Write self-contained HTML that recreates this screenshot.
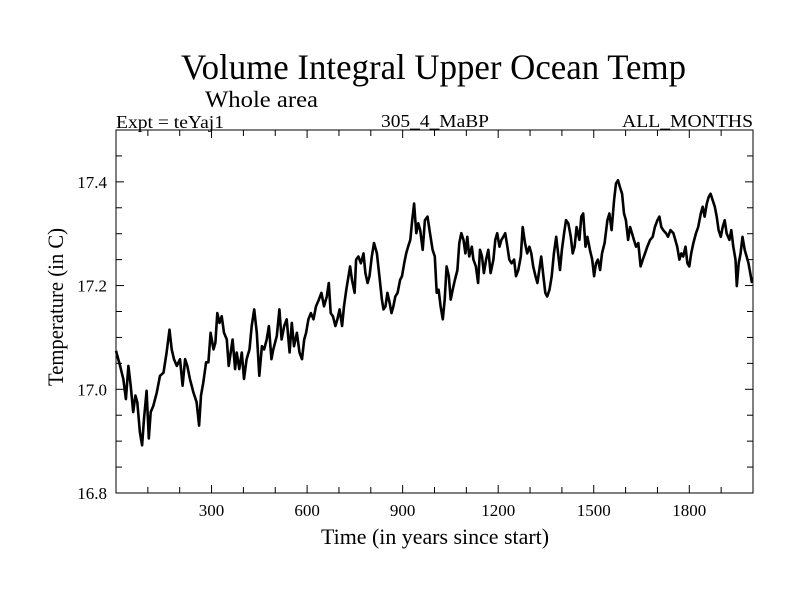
<!DOCTYPE html>
<html><head><meta charset="utf-8"><style>html,body{margin:0;padding:0;background:#fff}svg{display:block}text{font-family:"Liberation Serif",serif;fill:#000}</style></head>
<body>
<svg id="chart" width="800" height="600" viewBox="0 0 800 600" xmlns="http://www.w3.org/2000/svg">
<text x="181" y="79" font-size="36" textLength="505" lengthAdjust="spacingAndGlyphs">Volume Integral Upper Ocean Temp</text>
<text x="205" y="107" font-size="23" textLength="113" lengthAdjust="spacingAndGlyphs">Whole area</text>
<text x="116" y="128" font-size="18" textLength="108" lengthAdjust="spacingAndGlyphs">Expt = teYaj1</text>
<text x="381" y="127" font-size="18" textLength="108" lengthAdjust="spacingAndGlyphs">305_4_MaBP</text>
<text x="622" y="127" font-size="18" textLength="131" lengthAdjust="spacingAndGlyphs">ALL_MONTHS</text>
<text transform="translate(63,307) rotate(-90)" text-anchor="middle" font-size="22" textLength="158" lengthAdjust="spacingAndGlyphs">Temperature (in C)</text>
<text x="435" y="544" text-anchor="middle" font-size="22" textLength="228" lengthAdjust="spacingAndGlyphs">Time (in years since start)</text>
<g id="axes"></g>
<path id="series" fill="none" stroke="#000" stroke-width="2.6" stroke-linejoin="round"/>
<rect x="116" y="130" width="637" height="363" fill="none" stroke="#000" stroke-width="1"/>
</svg>
<script>
const years=[0,13,23,31,39,46,54,61,67,75,82,88,96,103,109,117,128,138,149,159,168,175,182,191,201,209,217,224,232,243,253,261,267,274,283,290,297,306,312,318,325,332,339,348,354,360,366,374,379,387,395,402,410,419,426,434,442,450,458,465,473,480,488,494,505,513,520,528,536,545,552,559,568,576,584,591,597,604,612,620,628,637,645,653,662,668,674,681,689,695,702,710,716,723,730,735,741,749,754,761,769,777,783,790,796,803,810,819,827,835,840,846,852,859,865,871,877,884,892,898,905,911,917,924,930,936,943,949,955,963,970,978,986,994,1001,1007,1013,1019,1026,1032,1038,1045,1051,1057,1064,1072,1078,1084,1091,1097,1103,1109,1117,1122,1130,1137,1143,1149,1155,1162,1169,1176,1185,1191,1197,1204,1210,1216,1222,1229,1235,1242,1250,1256,1263,1271,1277,1284,1291,1298,1304,1310,1317,1323,1329,1335,1342,1348,1354,1361,1368,1375,1382,1388,1394,1400,1407,1413,1420,1428,1434,1440,1446,1455,1461,1467,1474,1480,1488,1495,1501,1507,1513,1520,1526,1534,1543,1549,1556,1564,1570,1576,1582,1589,1595,1601,1608,1614,1620,1626,1633,1640,1647,1654,1661,1668,1677,1685,1692,1700,1706,1712,1718,1727,1733,1741,1750,1756,1762,1769,1775,1781,1788,1794,1800,1806,1813,1821,1828,1836,1842,1848,1855,1861,1867,1873,1880,1886,1892,1899,1905,1911,1917,1926,1932,1938,1945,1949,1955,1961,1967,1974,1980,1986,1993,1997];
const temps=[17.074,17.045,17.020,16.981,17.045,17.007,16.956,16.988,16.975,16.917,16.892,16.943,16.997,16.905,16.956,16.968,16.994,17.026,17.032,17.071,17.115,17.077,17.058,17.045,17.058,17.007,17.058,17.045,17.020,16.994,16.975,16.930,16.988,17.013,17.052,17.052,17.109,17.077,17.090,17.147,17.128,17.141,17.109,17.096,17.045,17.071,17.096,17.039,17.071,17.039,17.071,17.020,17.058,17.077,17.122,17.154,17.109,17.026,17.083,17.077,17.096,17.122,17.058,17.077,17.103,17.154,17.096,17.122,17.135,17.071,17.128,17.083,17.109,17.071,17.058,17.096,17.109,17.135,17.147,17.135,17.160,17.173,17.186,17.160,17.179,17.205,17.147,17.141,17.122,17.135,17.154,17.122,17.160,17.192,17.218,17.237,17.211,17.186,17.250,17.256,17.243,17.262,17.224,17.205,17.218,17.256,17.282,17.262,17.218,17.173,17.154,17.160,17.186,17.167,17.147,17.160,17.179,17.186,17.211,17.218,17.243,17.262,17.275,17.288,17.326,17.358,17.301,17.320,17.307,17.269,17.326,17.333,17.301,17.269,17.256,17.186,17.192,17.160,17.135,17.173,17.237,17.218,17.173,17.192,17.211,17.230,17.282,17.301,17.288,17.262,17.294,17.256,17.275,17.250,17.237,17.205,17.269,17.256,17.224,17.250,17.269,17.224,17.250,17.288,17.301,17.275,17.288,17.294,17.301,17.275,17.250,17.243,17.250,17.218,17.230,17.256,17.313,17.282,17.262,17.275,17.262,17.237,17.218,17.205,17.230,17.256,17.218,17.186,17.179,17.192,17.218,17.262,17.294,17.262,17.230,17.269,17.301,17.326,17.320,17.294,17.262,17.275,17.313,17.288,17.333,17.339,17.275,17.294,17.269,17.250,17.218,17.243,17.250,17.230,17.262,17.282,17.326,17.339,17.307,17.365,17.397,17.403,17.390,17.377,17.339,17.326,17.288,17.313,17.301,17.288,17.275,17.282,17.237,17.250,17.262,17.275,17.288,17.294,17.313,17.326,17.333,17.313,17.307,17.301,17.294,17.307,17.301,17.288,17.275,17.250,17.262,17.256,17.275,17.243,17.237,17.262,17.282,17.301,17.313,17.339,17.352,17.333,17.358,17.371,17.377,17.365,17.352,17.333,17.307,17.294,17.313,17.326,17.301,17.288,17.307,17.275,17.250,17.199,17.243,17.262,17.294,17.269,17.256,17.243,17.218,17.205];
const xTickLabels=[300,600,900,1200,1500,1800];
const yTickLabels=["16.8","17.0","17.2","17.4"];
const X0=116,X1=753,Y0=493,Y1=130,XMIN=0,XMAX=2000,YMIN=16.8,YMAX=17.5;
function xs(v){return X0+(v-XMIN)/(XMAX-XMIN)*(X1-X0);}
function ys(v){return Y0-(v-YMIN)/(YMAX-YMIN)*(Y0-Y1);}
const NS="http://www.w3.org/2000/svg";
const axes=document.getElementById('axes');
function ln(x1,y1,x2,y2,name){const l=document.createElementNS(NS,'line');l.setAttribute('x1',x1);l.setAttribute('y1',y1);l.setAttribute('x2',x2);l.setAttribute('y2',y2);l.setAttribute('stroke','#000');l.setAttribute('stroke-width','1');


axes.appendChild(l);}
for(let v=100;v<XMAX;v+=100){const x=xs(v);const len=(v%300===0)?8:6;ln(x,Y0,x,Y0-len,'x-tick');ln(x,Y1,x,Y1+len,'x-tick-top');}
for(let k=1;k<14;k++){const v=YMIN+k*0.05;const y=ys(v);const len=(k%4===0)?8:6;ln(X0,y,X0+len,y,'y-tick');ln(X1,y,X1-len,y,'y-tick-right');}
xTickLabels.forEach(v=>{const t=document.createElementNS(NS,'text');t.setAttribute('x',xs(v));t.setAttribute('y',Y0+23);t.setAttribute('text-anchor','middle');t.setAttribute('font-size','17');t.textContent=v;


axes.appendChild(t);});
yTickLabels.forEach(s=>{const t=document.createElementNS(NS,'text');t.setAttribute('x',107);t.setAttribute('y',ys(parseFloat(s))+6);t.setAttribute('text-anchor','end');t.setAttribute('font-size','17');t.textContent=s;


axes.appendChild(t);});
let d='';for(let i=0;i<years.length;i++){d+=(i?'L':'M')+xs(years[i]).toFixed(1)+','+ys(temps[i]).toFixed(1);}
document.getElementById('series').setAttribute('d',d);
</script>
</body></html>
